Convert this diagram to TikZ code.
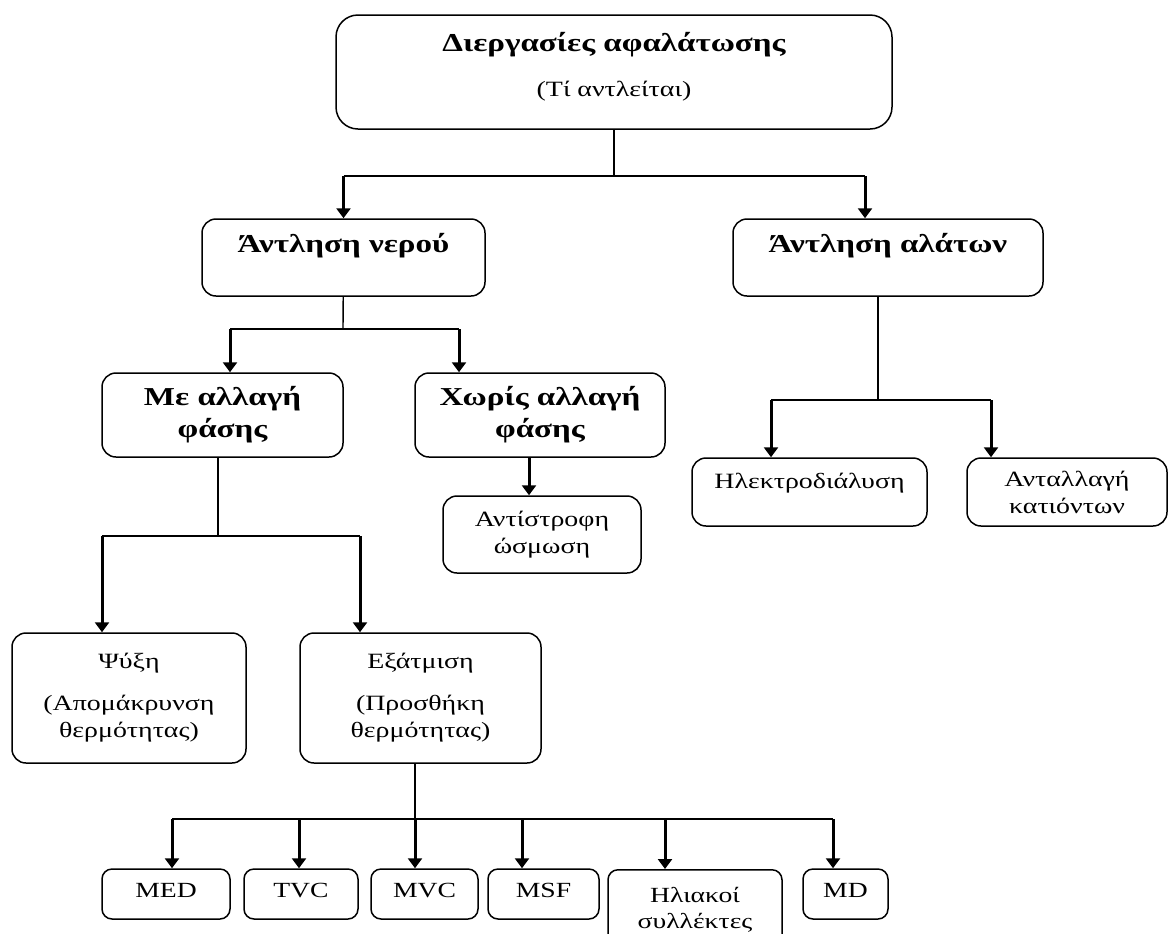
\documentclass[tikz,border=0pt]{standalone}
\usepackage{fontspec}
\setmainfont{Liberation Serif}[FakeStretch=1.28]
\usetikzlibrary{arrows.meta,positioning}

\begin{document}
\begin{tikzpicture}[
  x=0.5pt, y=-0.5pt,
  box/.style={draw, line width=0.75pt, rounded corners=7pt, align=center, inner sep=2pt},
  head/.style={box, font=\bfseries\fontsize{12.9}{16}\selectfont},
  sub/.style={box, font=\fontsize{10.9}{13.5}\selectfont},
  leaf/.style={box, rounded corners=5pt, font=\fontsize{10.8}{13}\selectfont,
    minimum height=25pt, text height=8pt, text depth=5pt},
  link/.style={line width=0.7pt},
  arr/.style={line width=1.5pt, -{Triangle[width=7pt,length=5pt]}},
]
  \useasboundingbox (0,0) rectangle (1168,933);

  % level 0
  \node[head, rounded corners=11pt, minimum width=278pt, minimum height=57pt,
    font=\bfseries\fontsize{12.9}{15}\selectfont, text depth=8pt]
    (top) at (614,72) {Διεργασίες αφαλάτωσης\\[7.5pt]{\mdseries\fontsize{10.9}{13}\selectfont (Τί αντλείται)}};

  % level 1
  \node[head, minimum width=141.5pt, minimum height=38.5pt, text height=10pt, text depth=15.5pt]
    (nero) at (343.5,257.5) {Άντληση νερού};
  \node[head, minimum width=155pt, minimum height=38.5pt, text height=10pt, text depth=15.5pt]
    (alaton) at (888,257.5) {Άντληση αλάτων};

  % level 2
  \node[head, minimum width=120.5pt, minimum height=42pt]
    (me) at (222.5,415) {Με αλλαγή\\φάσης};
  \node[head, minimum width=125pt, minimum height=42pt]
    (xoris) at (540,415) {Χωρίς αλλαγή\\φάσης};
  \node[sub, minimum width=99pt, minimum height=38.5pt] (anti) at (542,534.5) {Αντίστροφη\\ώσμωση};
  \node[sub, minimum width=117.5pt, minimum height=34pt, text height=9pt, text depth=13pt]
    (ilek) at (809.5,492) {Ηλεκτροδιάλυση};
  \node[sub, minimum width=100pt, minimum height=34pt] (antal) at (1067,492) {Ανταλλαγή\\κατιόντων};

  % level 3
  \node[sub, minimum width=117pt, minimum height=65pt] (psyxi) at (129,698)
    {Ψύξη\\[7.5pt](Απομάκρυνση\\θερμότητας)};
  \node[sub, minimum width=120.5pt, minimum height=65pt] (exat) at (420.5,698)
    {Εξάτμιση\\[7.5pt](Προσθήκη\\θερμότητας)};

  % level 4
  \node[leaf, minimum width=64pt]   (med) at (166,894)   {MED};
  \node[leaf, minimum width=57pt]   (tvc) at (301,894)   {TVC};
  \node[leaf, minimum width=53.5pt] (mvc) at (424.5,894) {MVC};
  \node[leaf, minimum width=55.5pt] (msf) at (543.5,894) {MSF};
  \node[leaf, minimum width=87pt, minimum height=40.5pt, text height=, text depth=,
    anchor=north] (ilia) at (695,869) {Ηλιακοί\\συλλέκτες};
  \node[leaf, minimum width=42.5pt] (md)  at (845.5,894) {MD};

  % forks
  \coordinate (f1) at (614,176);
  \coordinate (f2) at (343,329);
  \coordinate (f3) at (878,400);
  \coordinate (f4) at (218,536);
  \coordinate (f5) at (415,819);

  \draw[link] (top) -- (f1);
  \draw[link] (nero.north |- f1) -- ([xshift=-11.5pt]alaton.north |- f1);
  \draw[arr] (nero.north |- f1) -- (nero.north);
  \draw[arr] ([xshift=-11.5pt]alaton.north |- f1) -- ([xshift=-11.5pt]alaton.north);

  \draw[link] (nero) -- (f2);
  \draw[link] ([xshift=3.75pt]me.north |- f2) -- ([xshift=-40.5pt]xoris.north |- f2);
  \draw[arr] ([xshift=3.75pt]me.north |- f2) -- ([xshift=3.75pt]me.north);
  \draw[arr] ([xshift=-40.5pt]xoris.north |- f2) -- ([xshift=-40.5pt]xoris.north);
  \draw[arr] ([xshift=-5.5pt]xoris.south) -- ([xshift=-5.5pt]xoris.south |- anti.north);

  \draw[link] (alaton.south -| f3) -- (f3);
  \draw[link] ([xshift=-19.25pt]ilek.north |- f3) -- ([xshift=-38pt]antal.north |- f3);
  \draw[arr] ([xshift=-19.25pt]ilek.north |- f3) -- ([xshift=-19.25pt]ilek.north);
  \draw[arr] ([xshift=-38pt]antal.north |- f3) -- ([xshift=-38pt]antal.north);

  \draw[link] (me.south -| f4) -- (f4);
  \draw[link] ([xshift=-13.5pt]psyxi.north |- f4) -- ([xshift=-30.25pt]exat.north |- f4);
  \draw[arr] ([xshift=-13.5pt]psyxi.north |- f4) -- ([xshift=-13.5pt]psyxi.north);
  \draw[arr] ([xshift=-30.25pt]exat.north |- f4) -- ([xshift=-30.25pt]exat.north);

  \draw[link] (exat.south -| f5) -- (f5);
  \draw[link] ([xshift=3pt]med.north |- f5) -- ([xshift=-6.25pt]md.north |- f5);
  \foreach \n/\dx in {med/3, tvc/-1, mvc/-4.75, msf/-10.75, ilia/-15, md/-6.25}
    \draw[arr] ([xshift=\dx pt]\n.north |- f5) -- ([xshift=\dx pt]\n.north);
\end{tikzpicture}
\end{document}
